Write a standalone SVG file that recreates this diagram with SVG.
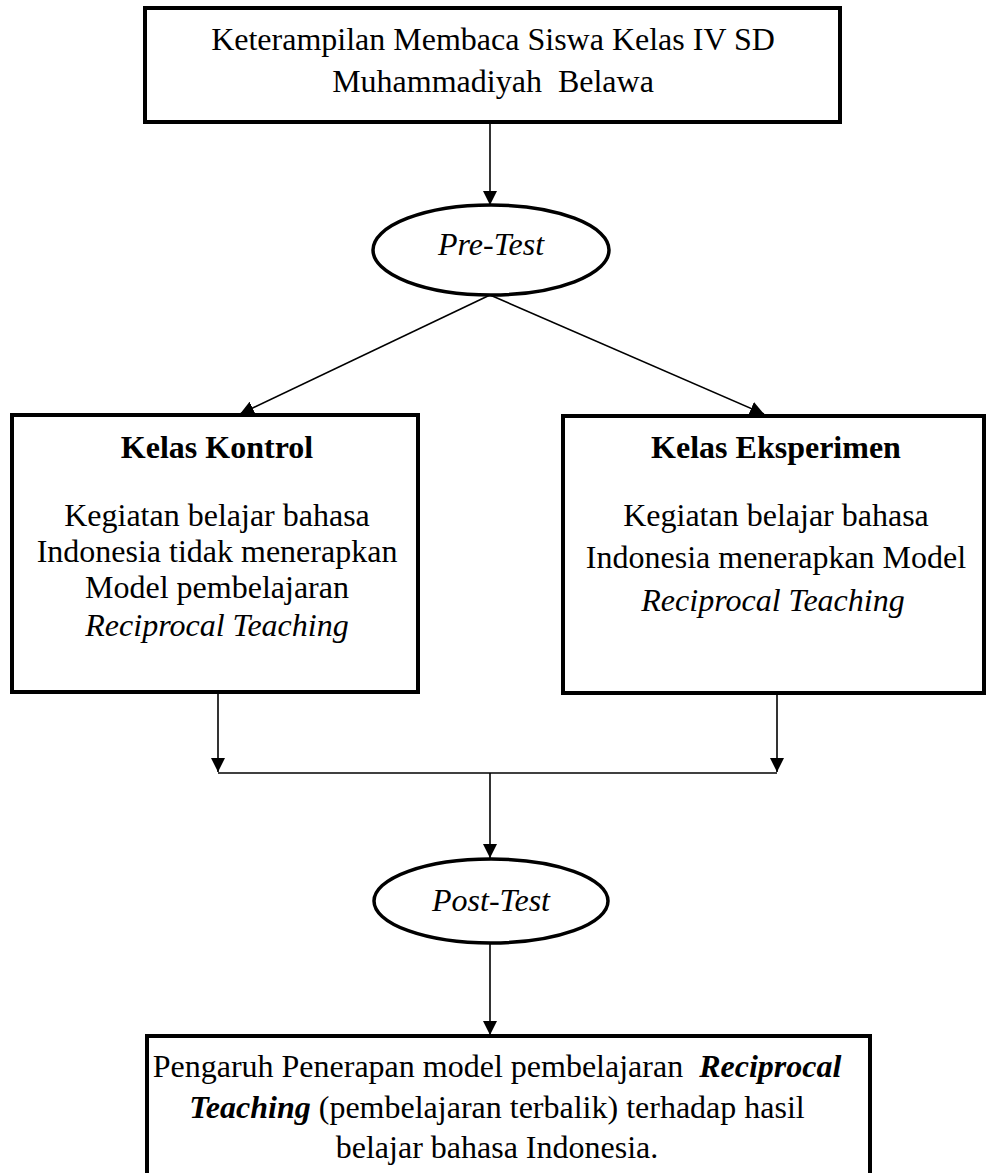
<svg xmlns="http://www.w3.org/2000/svg" width="987" height="1173" viewBox="0 0 987 1173">
<style>
  text { font-family: "Liberation Serif", "Times New Roman", serif; fill: #000; text-anchor: middle; }
  .t { font-size: 32px; }
  .b { font-weight: bold; }
  .i { font-style: italic; }
  .box { fill: #fff; stroke: #000; stroke-width: 4; }
  .ell { fill: #fff; stroke: #000; stroke-width: 3.5; }
  .con { fill: none; stroke: #000; stroke-width: 1.6; }
</style>
<defs>
  <marker id="arr" viewBox="0 0 14 14" refX="14" refY="7" markerWidth="14" markerHeight="14" markerUnits="userSpaceOnUse" orient="auto">
    <path d="M0,0 L14,7 L0,14 Z" fill="#000"/>
  </marker>
</defs>
<rect width="987" height="1173" fill="#fff"/>
<g id="connectors">
  <line class="con" x1="490" y1="122" x2="490" y2="205" marker-end="url(#arr)"/>
  <line class="con" x1="490" y1="295" x2="240" y2="414" marker-end="url(#arr)"/>
  <line class="con" x1="490" y1="295" x2="764" y2="414" marker-end="url(#arr)"/>
  <line class="con" x1="218" y1="692" x2="218" y2="772" marker-end="url(#arr)"/>
  <line class="con" x1="777" y1="693" x2="777" y2="772" marker-end="url(#arr)"/>
  <line class="con" x1="218" y1="773" x2="777" y2="773"/>
  <line class="con" x1="490" y1="773" x2="490" y2="858" marker-end="url(#arr)"/>
  <line class="con" x1="490" y1="943" x2="490" y2="1035" marker-end="url(#arr)"/>
</g>
<g id="node-top">
  <rect class="box" x="145" y="8" width="695" height="114"/>
  <text class="t" x="493" y="50">Keterampilan Membaca Siswa Kelas IV SD</text>
  <text class="t" x="493" y="92" xml:space="preserve">Muhammadiyah  Belawa</text>
</g>
<g id="node-pretest">
  <ellipse class="ell" cx="491" cy="250" rx="118" ry="45"/>
  <text class="t i" x="491" y="255">Pre-Test</text>
</g>
<g id="node-kontrol">
  <rect class="box" x="12" y="415" width="406" height="277"/>
  <text class="t b" x="217" y="458">Kelas Kontrol</text>
  <text class="t" x="217" y="526">Kegiatan belajar bahasa</text>
  <text class="t" x="217" y="562">Indonesia tidak menerapkan</text>
  <text class="t" x="217" y="598">Model pembelajaran</text>
  <text class="t i" x="217" y="636">Reciprocal Teaching</text>
</g>
<g id="node-eksperimen">
  <rect class="box" x="563" y="416" width="421" height="277"/>
  <text class="t b" x="776" y="458">Kelas Eksperimen</text>
  <text class="t" x="776" y="526">Kegiatan belajar bahasa</text>
  <text class="t" x="776" y="568">Indonesia menerapkan Model</text>
  <text class="t i" x="773" y="611">Reciprocal Teaching</text>
</g>
<g id="node-posttest">
  <ellipse class="ell" cx="491" cy="901" rx="117" ry="42"/>
  <text class="t i" x="491" y="911">Post-Test</text>
</g>
<g id="node-result">
  <rect class="box" x="147" y="1036" width="723" height="150"/>
  <text class="t" x="497" y="1077" xml:space="preserve">Pengaruh Penerapan model pembelajaran  <tspan class="b i">Reciprocal</tspan></text>
  <text class="t" x="497" y="1118"><tspan class="b i">Teaching</tspan> (pembelajaran terbalik) terhadap hasil</text>
  <text class="t" x="497" y="1158">belajar bahasa Indonesia.</text>
</g>
</svg>
